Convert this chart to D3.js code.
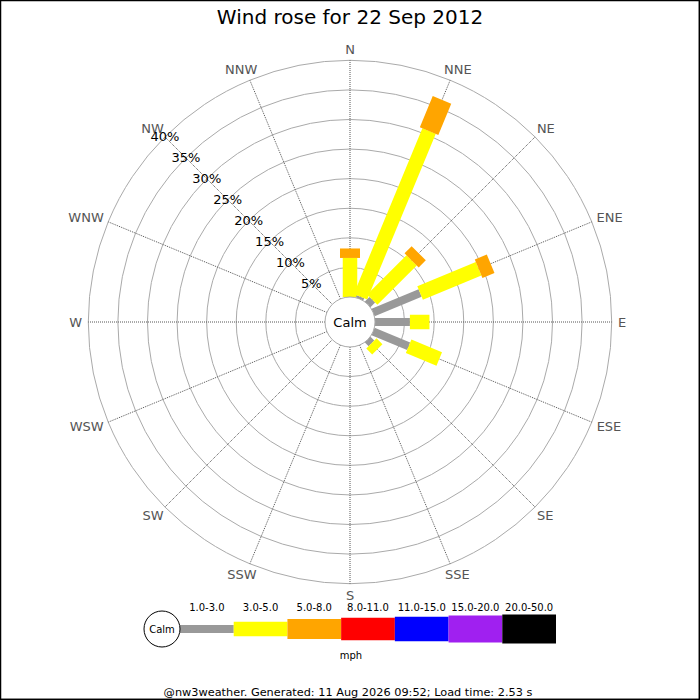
<!DOCTYPE html>
<html lang="en">
<head>
    <meta charset="UTF-8">
    <title>Wind rose for 22 Sep 2012</title>
    <script src="https://d3js.org/d3.v7.min.js"></script>
    <style>
        body {
            margin: 0;
            background-color: white;
            font-family: "DejaVu Sans", sans-serif;
        }
        svg {
            display: block;
        }
        .ring {
            fill: none;
            stroke: #aaa;
            stroke-width: 1;
        }
        .spoke {
            stroke: #555;
            stroke-width: 1;
            stroke-dasharray: 1,1;
        }
    </style>
</head>
<body>
    <script>
        // Data (percent of time per direction and speed class)
        const directions = ["N", "NNE", "NE", "ENE", "E", "ESE", "SE", "SSE",
                            "S", "SSW", "SW", "WSW", "W", "WNW", "NW", "NNW"];
        const speedBins = ["1.0-3.0", "3.0-5.0", "5.0-8.0", "8.0-11.0", "11.0-15.0", "15.0-20.0", "20.0-50.0"];
        const binColors = ["#999999", "#ffff00", "#ffa500", "#ff0000", "#0000ff", "#a020f0", "#000000"];
        const binWidths = [8, 14.5, 20, 22.5, 24.5, 27, 29];

        const speed1to3  = [0, 0.4, 1.1, 8.6, 5.9, 6.5, 0.9, 0, 0, 0, 0, 0, 0, 0, 0, 0];
        const speed3to5  = [6.6, 30.3, 9.4, 10.7, 3.3, 5.6, 1.4, 0, 0, 0, 0, 0, 0, 0, 0, 0];
        const speed5to8  = [1.6, 5.7, 1.7, 2.2, 0, 0, 0, 0, 0, 0, 0, 0, 0, 0, 0, 0];
        const speed8to11 = [0, 0, 0, 0, 0, 0, 0, 0, 0, 0, 0, 0, 0, 0, 0, 0];
        const speed11to15 = [0, 0, 0, 0, 0, 0, 0, 0, 0, 0, 0, 0, 0, 0, 0, 0];
        const speed15to20 = [0, 0, 0, 0, 0, 0, 0, 0, 0, 0, 0, 0, 0, 0, 0, 0];
        const speed20to50 = [0, 0, 0, 0, 0, 0, 0, 0, 0, 0, 0, 0, 0, 0, 0, 0];
        const series = [speed1to3, speed3to5, speed5to8, speed8to11, speed11to15, speed15to20, speed20to50];

        const ringTicks = [5, 10, 15, 20, 25, 30, 35, 40];

        const titleText = "Wind rose for 22 Sep 2012";
        const footerText = "@nw3weather. Generated: 11 Aug 2026 09:52; Load time: 2.53 s";

        // Set up dimensions
        const width = 700, height = 700;
        const cx = 350, cy = 322;
        const calmR = 25, outerR = 261.7, labelR = 268;

        const svg = d3.select("body").append("svg")
            .attr("width", width)
            .attr("height", height);

        svg.append("rect")
            .attr("x", 0.5).attr("y", 0.5)
            .attr("width", width - 1.2).attr("height", height - 1.2)
            .attr("fill", "white")
            .attr("stroke", "black")
            .attr("stroke-width", 1.5);

        svg.append("text")
            .attr("x", width / 2)
            .attr("y", 24)
            .attr("text-anchor", "middle")
            .style("font-size", "20px")
            .text(titleText);

        // Scales
        const rScale = d3.scaleLinear()
            .domain([0, 40])
            .range([calmR, outerR]);

        const angle = d3.scalePoint()
            .domain(directions)
            .range([0, 360 - 22.5]);

        const rose = svg.append("g")
            .attr("transform", `translate(${cx},${cy})`);

        const polar = (deg, r) => {
            const a = deg * Math.PI / 180;
            return [r * Math.sin(a), -r * Math.cos(a)];
        };

        // Rings
        rose.selectAll(".ring")
            .data(ringTicks)
            .enter()
            .append("circle")
            .attr("class", "ring")
            .attr("r", d => rScale(d));

        // Spokes
        rose.selectAll(".spoke")
            .data(directions)
            .enter()
            .append("line")
            .attr("class", "spoke")
            .attr("x1", d => polar(angle(d), calmR)[0])
            .attr("y1", d => polar(angle(d), calmR)[1])
            .attr("x2", d => polar(angle(d), outerR)[0])
            .attr("y2", d => polar(angle(d), outerR)[1]);

        // Direction labels, pushed outward by half their size
        rose.selectAll(".dirlabel")
            .data(directions)
            .enter()
            .append("text")
            .attr("class", "dirlabel")
            .attr("text-anchor", "middle")
            .attr("dominant-baseline", "central")
            .style("font-size", "13px")
            .style("fill", "#555")
            .text(d => d)
            .each(function(d) {
                const w = this.getComputedTextLength();
                const a = angle(d) * Math.PI / 180;
                const p = polar(angle(d), labelR);
                d3.select(this)
                    .attr("x", p[0] + Math.sin(a) * w / 2)
                    .attr("y", p[1] - Math.cos(a) * 5);
            });

        // Stacked bars
        directions.forEach((dir, i) => {
            let cum = 0;
            series.forEach((vals, b) => {
                const v = vals[i];
                if (v <= 0) return;
                const r0 = rScale(cum), r1 = rScale(cum + v);
                cum += v;
                rose.append("rect")
                    .attr("x", -binWidths[b] / 2)
                    .attr("y", -r1)
                    .attr("width", binWidths[b])
                    .attr("height", r1 - r0)
                    .attr("fill", binColors[b])
                    .attr("transform", `rotate(${angle(dir)})`);
            });
        });

        // Calm circle
        rose.append("circle")
            .attr("r", calmR)
            .attr("fill", "white")
            .attr("stroke", "#aaa");
        rose.append("text")
            .attr("text-anchor", "middle")
            .attr("dominant-baseline", "central")
            .style("font-size", "13px")
            .text("Calm");

        // Ring labels along NW
        rose.selectAll(".ringlabel")
            .data(ringTicks)
            .enter()
            .append("text")
            .attr("class", "ringlabel")
            .attr("x", d => polar(315, rScale(d))[0])
            .attr("y", d => polar(315, rScale(d))[1])
            .attr("text-anchor", "middle")
            .attr("dominant-baseline", "central")
            .style("font-size", "13px")
            .text(d => d + "%");

        // Legend
        const legX = d3.scaleBand()
            .domain(speedBins)
            .range([180, 556]);
        const legY = 629;

        const leg = svg.append("g");
        leg.selectAll(".legbar")
            .data(speedBins)
            .enter()
            .append("rect")
            .attr("x", d => legX(d))
            .attr("y", (d, i) => legY - binWidths[i] / 2)
            .attr("width", legX.bandwidth())
            .attr("height", (d, i) => binWidths[i])
            .attr("fill", (d, i) => binColors[i]);

        leg.selectAll(".leglabel")
            .data(speedBins)
            .enter()
            .append("text")
            .attr("x", d => legX(d) + legX.bandwidth() / 2)
            .attr("y", 611)
            .attr("text-anchor", "middle")
            .style("font-size", "10px")
            .text(d => d);

        leg.append("circle")
            .attr("cx", 162).attr("cy", legY)
            .attr("r", 18)
            .attr("fill", "white")
            .attr("stroke", "black");
        leg.append("text")
            .attr("x", 162).attr("y", legY)
            .attr("text-anchor", "middle")
            .attr("dominant-baseline", "central")
            .style("font-size", "10px")
            .text("Calm");

        leg.append("text")
            .attr("x", 351).attr("y", 659)
            .attr("text-anchor", "middle")
            .style("font-size", "10px")
            .text("mph");

        svg.append("text")
            .attr("x", 348).attr("y", 696)
            .attr("text-anchor", "middle")
            .style("font-size", "11.3px")
            .text(footerText);
    </script>
</body>
</html>
